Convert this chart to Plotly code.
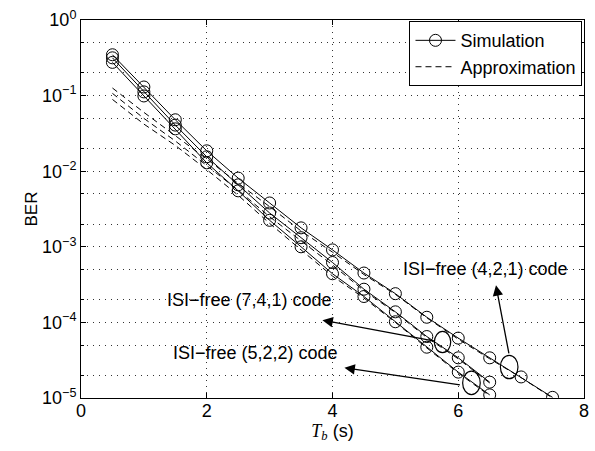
import plotly.graph_objects as go

# ---- data ----
tb_long = [0.5, 1.0, 1.5, 2.0, 2.5, 3.0, 3.5, 4.0, 4.5, 5.0, 5.5, 6.0, 6.5, 7.0, 7.5]
tb_short = [0.5, 1.0, 1.5, 2.0, 2.5, 3.0, 3.5, 4.0, 4.5, 5.0, 5.5, 6.0, 6.5]

sim_421 = [0.347, 0.130, 0.0479, 0.0186, 8.1e-3, 3.8e-3, 1.78e-3, 9.1e-4, 4.5e-4, 2.4e-4, 1.17e-4, 6.2e-5, 3.4e-5, 1.9e-5, 1.02e-5]
sim_741 = [0.316, 0.112, 0.0407, 0.0155, 6.6e-3, 2.8e-3, 1.32e-3, 6.2e-4, 2.75e-4, 1.38e-4, 6.5e-5, 3.4e-5, 1.62e-5]
sim_522 = [0.275, 0.0989, 0.0363, 0.0129, 5.5e-3, 2.24e-3, 1.0e-3, 4.4e-4, 2.2e-4, 1.02e-4, 4.7e-5, 2.2e-5, 1.1e-5]

app_421 = [0.126, 0.060, 0.0295, 0.0145, 6.9e-3, 3.4e-3, 1.62e-3, 8.5e-4, 4.3e-4, 2.35e-4, 1.15e-4, 6.0e-5, 3.3e-5, 1.86e-5, 1.0e-5]
app_741 = [0.107, 0.050, 0.0251, 0.0120, 5.6e-3, 2.5e-3, 1.2e-3, 5.75e-4, 2.63e-4, 1.35e-4, 6.3e-5, 3.3e-5, 1.58e-5]
app_522 = [0.089, 0.042, 0.0219, 0.0105, 4.8e-3, 2.04e-3, 9.1e-4, 4.1e-4, 2.1e-4, 1.0e-4, 4.6e-5, 2.14e-5, 1.07e-5]

x_ticks = [0, 2, 4, 6, 8]
y_ticks = [1e-5, 1e-4, 1e-3, 1e-2, 1e-1, 1e0]
y_ticktext = ["10<sup>\u22125</sup>", "10<sup>\u22124</sup>", "10<sup>\u22123</sup>",
              "10<sup>\u22122</sup>", "10<sup>\u22121</sup>", "10<sup>0</sup>"]

FONT = "Liberation Sans, Arial, sans-serif"

fig = go.Figure()

sims = [(tb_long, sim_421), (tb_short, sim_741), (tb_short, sim_522)]
apps = [(tb_long, app_421), (tb_short, app_741), (tb_short, app_522)]

for i, (x, y) in enumerate(sims):
    fig.add_trace(go.Scatter(
        x=x, y=y, mode="lines+markers", name="Simulation",
        showlegend=(i == 0), legendgroup="sim",
        line=dict(color="black", width=1),
        marker=dict(symbol="circle-open", size=12, color="black", line=dict(width=1)),
    ))
for i, (x, y) in enumerate(apps):
    fig.add_trace(go.Scatter(
        x=x, y=y, mode="lines", name="Approximation",
        showlegend=(i == 0), legendgroup="app",
        line=dict(color="black", width=1, dash="6px,4px"),
    ))

# annotations: text labels (x, log10 y)
labels = [
    ("ISI\u2212free (4,2,1) code", 6.43, -3.29),
    ("ISI\u2212free (7,4,1) code", 2.68, -3.70),
    ("ISI\u2212free (5,2,2) code", 2.78, -4.40),
]
for t, x, y in labels:
    fig.add_annotation(x=x, y=y, xref="x", yref="y", text=t, showarrow=False,
                       font=dict(family=FONT, size=18, color="black"))

# arrows (tip x, tip log10 y, tail x, tail log10 y)
arrows = [
    (6.60, -3.51, 6.81, -4.43),
    (3.84, -3.97, 5.65, -4.25),
    (4.19, -4.60, 6.05, -4.83),
]
for x, y, ax, ay in arrows:
    fig.add_annotation(x=x, y=y, ax=ax, ay=ay, xref="x", yref="y", axref="x", ayref="y",
                       text="", showarrow=True, arrowhead=2, arrowsize=1.6, arrowwidth=1.3,
                       arrowcolor="black", standoff=0, startstandoff=0)

# ellipses (center x, center log10 y, half-width, half-height in decades)
ellipses = [
    (6.81, -4.59, 0.14, 0.155),
    (5.75, -4.26, 0.13, 0.14),
    (6.21, -4.80, 0.14, 0.155),
]
for cx, cy, hw, hh in ellipses:
    fig.add_shape(type="circle", xref="x", yref="y",
                  x0=cx - hw, x1=cx + hw, y0=10 ** (cy - hh), y1=10 ** (cy + hh),
                  line=dict(color="black", width=1.2))

GRID = "#333333"
axis_common = dict(
    showline=True, linecolor="black", linewidth=1, mirror="ticks",
    ticks="inside", ticklen=5, tickcolor="black",
    tickfont=dict(family=FONT, size=18, color="black"),
    showgrid=True, gridcolor=GRID, griddash="1px,5px", gridwidth=1,
    zeroline=False, automargin=False,
)

fig.update_xaxes(
    range=[0, 8], tickvals=x_ticks, ticktext=[str(v) for v in x_ticks],
    title=dict(text="<span style='font-family:Liberation Serif, serif'><i>T</i><sub><i>b</i></sub></span> (s)",
               font=dict(family=FONT, size=18, color="black"), standoff=0),
    ticklabelstandoff=-4,
    **axis_common,
)
fig.update_yaxes(
    type="log", range=[-5, 0], tickvals=y_ticks, ticktext=y_ticktext,
    title=dict(text="BER", font=dict(family=FONT, size=17, color="black"), standoff=0),
    minor=dict(ticks="inside", ticklen=3, tickcolor="black", showgrid=True,
               gridcolor=GRID, griddash="1px,5px", gridwidth=1),
    **axis_common,
)

fig.update_layout(
    width=595, height=451,
    margin=dict(l=81, r=11, t=20, b=53),
    plot_bgcolor="white", paper_bgcolor="white",
    showlegend=True,
    legend=dict(x=0.997, y=0.997, xanchor="right", yanchor="top",
                bgcolor="white", bordercolor="black", borderwidth=1,
                font=dict(family=FONT, size=18, color="black"),
                tracegroupgap=0, itemwidth=40),
)

fig.write_html("out.html", config={"displayModeBar": False},
               post_script="document.body.style.margin='0px';")
